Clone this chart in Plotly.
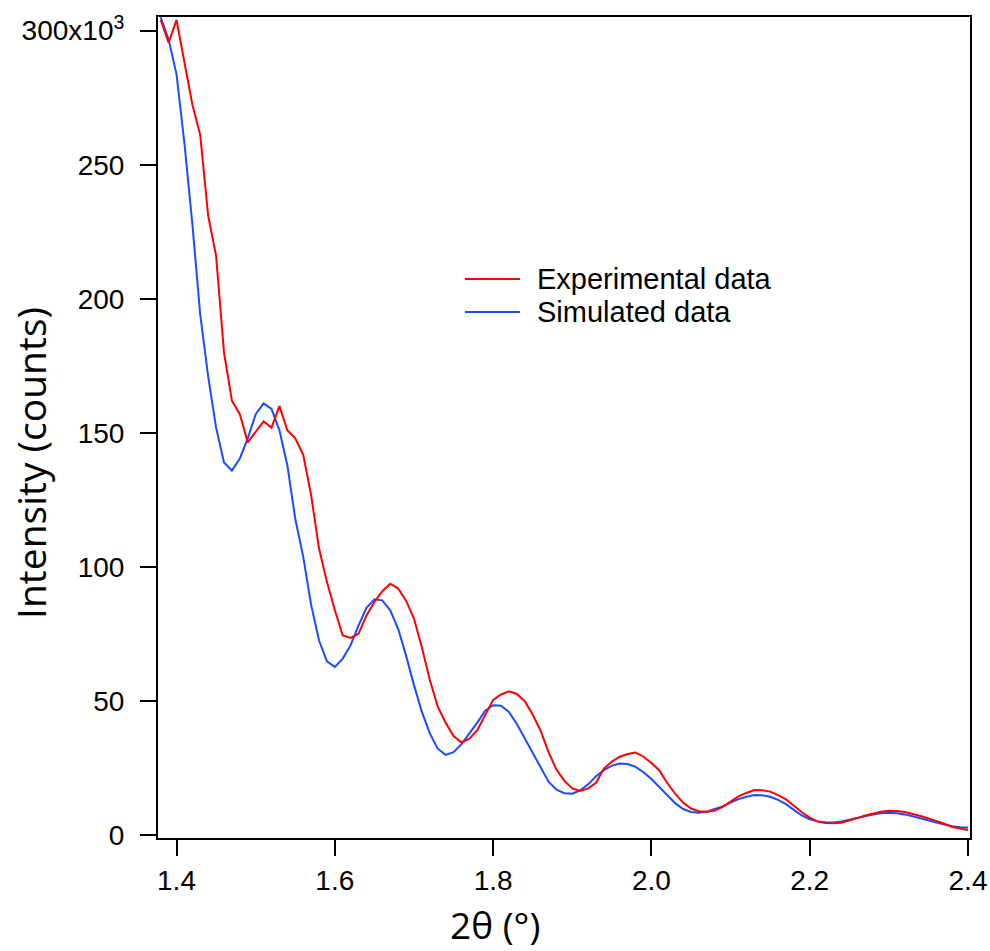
import plotly.graph_objects as go

two_theta = [round(1.38 + 0.01 * i, 2) for i in range(103)]

experimental = [
    304, 295.5, 304, 288, 272.5, 261, 231, 216, 180, 162,
    157, 146.5, 150.5, 154.3, 152, 160, 151, 148, 142, 127,
    107, 94.5, 84, 74.5, 73.6, 75.2, 82, 87, 91, 93.8,
    92, 87.5, 80.8, 70, 58, 48, 42, 37, 34.6, 36,
    39.2, 45, 50.5, 52.5, 53.7, 52.7, 50, 45, 39, 31,
    24.5, 20.3, 17.5, 16.5, 17.5, 19.6, 24.9, 27.5, 29.3, 30.3,
    30.9, 29.3, 27, 24.2, 19.5, 15.5, 12.2, 10, 9, 8.8,
    9.2, 10.6, 12.5, 14.5, 15.8, 16.9, 16.8, 16.3, 15, 13.4,
    11, 8.6, 6.6, 5.1, 4.6, 4.5, 4.7, 5.5, 6.4, 7.4,
    8.2, 8.8, 9.2, 9.1, 8.7, 8.0, 7.2, 6.3, 5.4, 4.3,
    3.1, 2.5, 2.0,
]

simulated = [
    305, 296.7, 283.7, 258, 228, 194, 171, 152, 139, 136,
    140.5, 148, 157, 161, 159, 151, 138, 118, 104, 86,
    72.7, 64.9, 62.8, 65.9, 70.9, 78.3, 84.8, 88, 87.6, 83.9,
    77, 67, 56, 46, 38, 32.3, 30, 31, 34, 37.8,
    42, 46.5, 48.5, 48.3, 46, 41.5, 36, 30.5, 25, 20,
    17, 15.7, 15.5, 16.8, 19, 22, 24.3, 26, 26.8, 26.6,
    25.5, 23.5, 21, 18, 15, 12, 9.8, 8.7, 8.4, 8.8,
    9.8, 10.8, 12.2, 13.5, 14.4, 15, 14.9, 14.4, 13.2, 11.6,
    9.5, 7.4, 6, 5.2, 4.9, 4.8, 5.2, 5.9, 6.6, 7.3,
    7.8, 8.2, 8.4, 8.2, 7.8, 7.1, 6.3, 5.6, 4.7, 4.0,
    3.4, 3.0, 2.9,
]

x_tickvals = [1.4, 1.6, 1.8, 2.0, 2.2, 2.4]
x_ticktext = ["1.4", "1.6", "1.8", "2.0", "2.2", "2.4"]
y_tickvals = [0, 50, 100, 150, 200, 250, 300]
y_ticktext = ["0", "50", "100", "150", "200", "250", "300x10<sup>3</sup>"]

series_names = ["Experimental data", "Simulated data"]
series_colors = ["#ff0000", "#1a4dff"]

fig = go.Figure()
fig.add_trace(go.Scatter(x=two_theta, y=simulated, mode="lines", name=series_names[1],
                         line=dict(color=series_colors[1], width=2)))
fig.add_trace(go.Scatter(x=two_theta, y=experimental, mode="lines", name=series_names[0],
                         line=dict(color=series_colors[0], width=2)))

tick_font = dict(family="Liberation Sans, Arial", size=28, color="black")
title_font = dict(family="Open Sans", size=39, color="black")
xtitle_font = dict(family="Open Sans", size=37, color="black")
legend_font = dict(family="Liberation Sans, Arial", size=29, color="black")

# custom legend (line sample + label)
legend_rows_y = [0.681, 0.6407]
for name, color, ly in zip(series_names, series_colors, legend_rows_y):
    fig.add_shape(type="line", xref="paper", yref="paper", x0=0.378, x1=0.4458, y0=ly, y1=ly,
                  line=dict(color=color, width=2))
    fig.add_annotation(xref="paper", yref="paper", x=0.4643, y=ly, xanchor="left", yanchor="middle",
                       text=name, showarrow=False, font=legend_font)

fig.add_annotation(xref="paper", yref="paper", x=-0.1564, y=0.4568, text="Intensity (counts)",
                   textangle=-90, showarrow=False, font=title_font, xanchor="center", yanchor="middle")
fig.add_annotation(xref="paper", yref="paper", x=0.415, y=-0.105, text="2θ (°)",
                   showarrow=False, font=xtitle_font, xanchor="center", yanchor="middle",
                   borderpad=0)

fig.update_layout(
    width=990, height=951,
    margin=dict(l=158, r=20, t=17, b=113),
    paper_bgcolor="white", plot_bgcolor="white",
    font=tick_font,
    showlegend=False,
    xaxis=dict(range=[1.3766, 2.4025], tickvals=x_tickvals, ticktext=x_ticktext, automargin=False,
               showgrid=False, zeroline=False, showline=True, linecolor="black", linewidth=2,
               mirror=True, ticks="outside", ticklen=16, tickwidth=2, tickcolor="black",
               tickfont=tick_font),
    yaxis=dict(range=[-1, 305.1], tickvals=y_tickvals, ticktext=y_ticktext, automargin=False,
               showgrid=False, zeroline=False, showline=True, linecolor="black", linewidth=2,
               mirror=True, ticks="outside", ticklen=16, tickwidth=2, tickcolor="black",
               ticklabelstandoff=10, tickfont=tick_font),
)

fig.write_html("out.html")
